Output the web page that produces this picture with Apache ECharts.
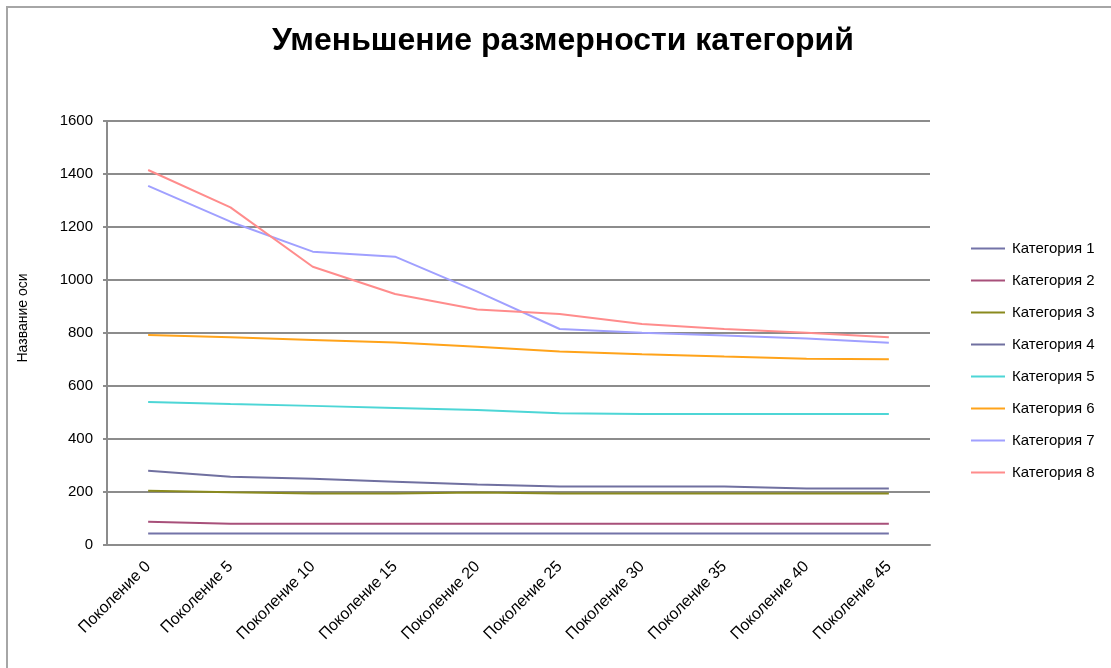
<!DOCTYPE html>
<html>
<head>
<meta charset="utf-8">
<script src="https://cdn.jsdelivr.net/npm/echarts@6/dist/echarts.min.js"></script>
<style>
  html, body { margin: 0; padding: 0; background: #ffffff; }
  #chart { width: 1111px; height: 668px; }
</style>
</head>
<body>
<div id="chart"></div>
<script>
// Generations shown on the category axis
const generations = ['Поколение 0', 'Поколение 5', 'Поколение 10', 'Поколение 15', 'Поколение 20',
                     'Поколение 25', 'Поколение 30', 'Поколение 35', 'Поколение 40', 'Поколение 45'];

// Size of each category per generation
const cat1 = [43, 43, 43, 43, 43, 43, 43, 43, 43, 43];
const cat2 = [88, 80, 80, 80, 80, 80, 80, 80, 80, 80];
const cat3 = [205, 199, 194, 194, 198, 194, 194, 194, 194, 194];
const cat4 = [280, 258, 250, 239, 228, 221, 221, 221, 213, 213];
const cat5 = [540, 532, 525, 517, 509, 497, 494, 494, 494, 494];
const cat6 = [792, 784, 774, 764, 748, 730, 720, 711, 703, 701];
const cat7 = [1355, 1220, 1107, 1088, 956, 815, 801, 791, 779, 763];
const cat8 = [1415, 1274, 1050, 947, 889, 872, 834, 815, 801, 784];

const seriesNames = ['Категория 1', 'Категория 2', 'Категория 3', 'Категория 4',
                     'Категория 5', 'Категория 6', 'Категория 7', 'Категория 8'];
const seriesData = [cat1, cat2, cat3, cat4, cat5, cat6, cat7, cat8];
const seriesColors = ['#7373a8', '#a8507a', '#8a8a1e', '#7070a0',
                      '#4dd6d6', '#ffa31a', '#a0a0ff', '#ff8c8c'];

const yTicks = [0, 200, 400, 600, 800, 1000, 1200, 1400, 1600];
const chartTitle = 'Уменьшение размерности категорий';
const yAxisTitle = 'Название оси';

const font = 'Liberation Sans, Arial, sans-serif';

const chart = echarts.init(document.getElementById('chart'));
chart.setOption({
  backgroundColor: '#ffffff',
  animation: false,
  graphic: [{
    // outer chart frame
    type: 'rect',
    shape: { x: 7, y: 7, width: 1300, height: 900 },
    style: { fill: 'none', stroke: '#a6a6a6', lineWidth: 2 },
    silent: true,
    z: -1
  }, {
    // chart title
    type: 'text',
    x: 563,
    y: 41,
    style: {
      text: chartTitle,
      fontFamily: font,
      fontSize: 32,
      fontWeight: 'bold',
      fill: '#000',
      align: 'center',
      verticalAlign: 'middle'
    },
    silent: true
  }, {
    // value axis title
    type: 'text',
    x: 23,
    y: 318,
    rotation: Math.PI / 2,
    style: {
      text: yAxisTitle,
      fontFamily: font,
      fontSize: 14,
      fill: '#000',
      align: 'center',
      verticalAlign: 'middle'
    },
    silent: true
  }],
  legend: {
    orient: 'vertical',
    left: 966,
    top: 236,
    icon: 'rect',
    itemWidth: 34,
    itemHeight: 2,
    itemGap: 17,
    textStyle: { fontFamily: font, fontSize: 15, color: '#000', padding: [0, 0, 0, 2] },
    data: seriesNames
  },
  grid: { left: 107, right: 181, top: 121, bottom: 123, containLabel: false },
  xAxis: {
    type: 'category',
    data: generations,
    boundaryGap: true,
    axisLine: { lineStyle: { color: '#8c8c8c', width: 2 } },
    axisTick: { show: false },
    axisLabel: {
      rotate: 45,
      interval: 0,
      margin: 19,
      fontFamily: font,
      fontSize: 16,
      color: '#000'
    }
  },
  yAxis: {
    type: 'value',
    min: yTicks[0],
    max: yTicks[yTicks.length - 1],
    interval: 200,
    axisLine: { show: true, lineStyle: { color: '#8c8c8c', width: 2 } },
    axisTick: { show: true, length: 4, lineStyle: { color: '#8c8c8c', width: 2 } },
    splitLine: { lineStyle: { color: '#8c8c8c', width: 2 } },
    axisLabel: {
      margin: 14,
      fontFamily: font,
      fontSize: 15,
      color: '#000',
      formatter: (v) => String(v)
    }
  },
  series: seriesNames.map((name, i) => ({
    name: name,
    type: 'line',
    data: seriesData[i],
    symbol: 'none',
    color: seriesColors[i],
    lineStyle: { width: 2, color: seriesColors[i] },
    z: 3
  }))
});
</script>
</body>
</html>
